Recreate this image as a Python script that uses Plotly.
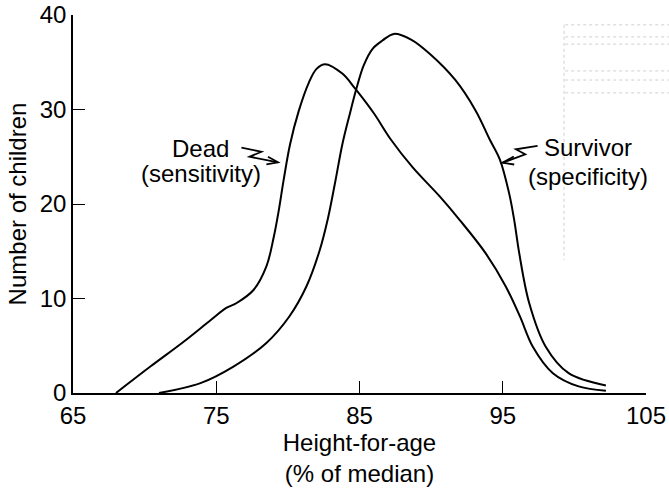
import plotly.graph_objects as go

# Dead (sensitivity) curve
dead_x = [68.0, 70.4, 72.7, 74.6, 75.7, 76.4, 77.6, 78.5, 79.0, 79.35, 79.7, 80.15, 80.75, 81.45,
          82.0, 82.6, 83.8, 84.7, 86.0, 87.2, 88.7, 90.6, 92.0, 93.8, 95.2, 96.2, 97.1, 98.5, 100.3, 102.2]
dead_y = [0.0, 2.8, 5.4, 7.7, 9.0, 9.5, 10.9, 13.4, 16.4, 19.2, 22.5, 26.3, 29.8, 32.8,
          34.3, 34.8, 33.8, 32.2, 29.6, 26.8, 23.9, 20.8, 18.3, 14.8, 11.3, 8.1, 4.9, 2.1, 0.7, 0.25]

# Survivor (specificity) curve
surv_x = [71.0, 73.9, 76.2, 78.5, 80.1, 81.3, 82.2, 82.8, 83.3, 83.8, 84.3, 84.8, 85.3, 85.9,
          86.6, 87.4, 88.6, 89.9, 91.7, 93.1, 94.1, 94.8, 95.45, 95.8, 96.15, 96.85, 98.0, 99.6, 102.2]
surv_y = [0.0, 1.05, 2.8, 5.3, 8.1, 11.3, 15.0, 18.5, 22.3, 26.3, 29.4, 32.3, 34.7, 36.4,
          37.3, 38.0, 37.4, 35.9, 33.1, 29.9, 26.8, 24.7, 21.1, 18.3, 14.8, 9.5, 4.9, 2.1, 0.8]

x_ticks = [65, 75, 85, 95, 105]
y_ticks = [0, 10, 20, 30, 40]

FONT = "Liberation Sans, Arial, Helvetica, sans-serif"
FS = 24

fig = go.Figure()
for xs, ys in [(dead_x, dead_y), (surv_x, surv_y)]:
    fig.add_trace(go.Scatter(x=xs, y=ys, mode="lines",
                             line=dict(color="black", width=2, shape="spline", smoothing=1.0),
                             showlegend=False, hoverinfo="skip"))

# squiggly pointer arrows
def poly(pts):
    return "M " + " L ".join(f"{x},{y}" for x, y in pts)

dead_arrow = [(76.76, 25.96), (78.15, 25.53), (77.33, 25.0), (79.31, 24.41)]
dead_head = [(78.61, 25.0), (79.31, 24.41), (78.50, 24.2)]
surv_arrow = [(97.43, 26.14), (95.92, 25.79), (96.57, 25.26), (94.99, 24.37)]
surv_head = [(95.77, 25.03), (94.99, 24.37), (95.80, 24.18)]
shapes = []
for pts in [dead_arrow, dead_head, surv_arrow, surv_head]:
    shapes.append(dict(type="path", path=poly(pts), xref="x", yref="y",
                       line=dict(color="black", width=1.8)))

# faint scan artefacts at top right
noise = dict(color="#cfcfcf", width=1, dash="dot")
shapes.append(dict(type="line", xref="paper", yref="paper", x0=0.857, x1=0.857,
                   y0=0.974, y1=0.352, line=noise))
for yy in [0.974, 0.942, 0.923, 0.852, 0.828, 0.794]:
    shapes.append(dict(type="line", xref="paper", yref="paper", x0=0.859, x1=1.04,
                       y0=yy, y1=yy, line=noise))

labels = [
    ("Dead", 73.92, 25.9), ("(sensitivity)", 73.92, 23.2),
    ("Survivor", 100.96, 25.98), ("(specificity)", 100.96, 22.9),
]
annotations = [dict(x=x, y=y, xref="x", yref="y", text=t, showarrow=False,
                    font=dict(family=FONT, size=FS, color="black"))
               for t, x, y in labels]

fig.update_layout(
    template="none",
    width=669, height=489,
    margin=dict(l=73, r=23, t=15, b=96),
    paper_bgcolor="white", plot_bgcolor="white",
    font=dict(family=FONT, size=FS, color="black"),
    shapes=shapes, annotations=annotations,
    xaxis=dict(range=[65, 105], tickvals=x_ticks, ticktext=[str(v) for v in x_ticks],
               ticks="inside", ticklen=12, tickwidth=1, tickcolor="black",
               showline=True, linecolor="black", linewidth=1.5, showgrid=False, zeroline=False,
               automargin=False, tickfont=dict(size=FS),
               title=dict(text="Height-for-age<br>(% of median)", font=dict(size=FS), standoff=1)),
    yaxis=dict(range=[0, 40], tickvals=y_ticks, ticktext=[str(v) for v in y_ticks],
               ticks="inside", ticklen=12, tickwidth=1, tickcolor="black",
               showline=True, linecolor="black", linewidth=1.5, showgrid=False, zeroline=False,
               automargin=False, tickfont=dict(size=FS),
               title=dict(text="Number of children", font=dict(size=FS), standoff=6)),
)

fig.write_html("out.html", config={"displayModeBar": False},
               post_script="document.body.style.margin='0px';document.body.style.padding='0px';")
